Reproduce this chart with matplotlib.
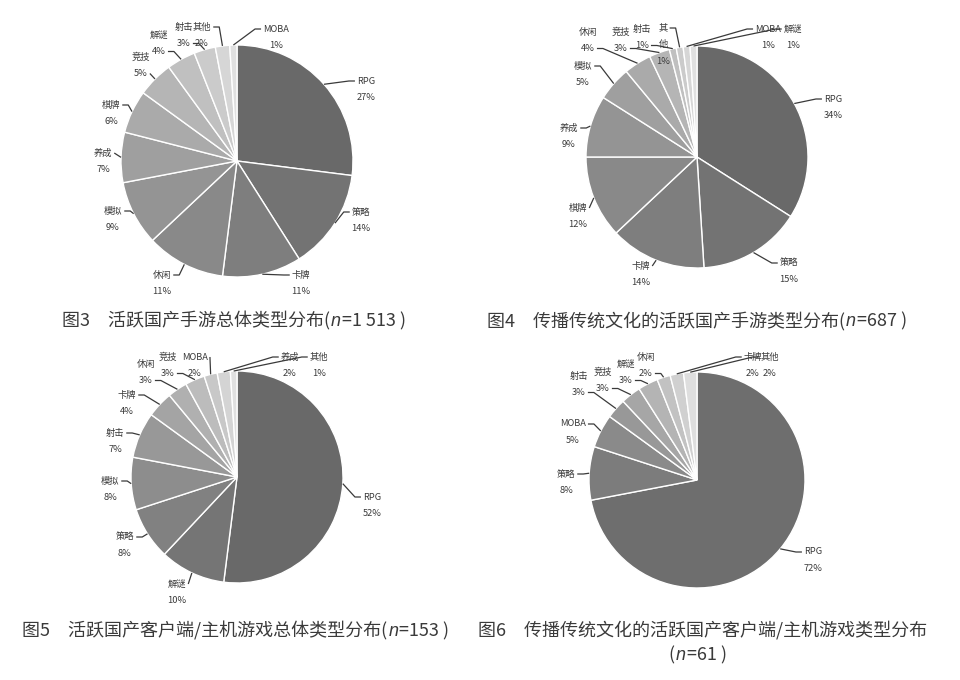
import numpy as np
import matplotlib
matplotlib.use('Agg')
import matplotlib.pyplot as plt

plt.rcParams['font.family'] = ['Noto Sans CJK SC', 'DejaVu Sans']

# 图3 活跃国产手游总体类型分布 (n=1 513)
names_3 = ['RPG', '策略', '卡牌', '休闲', '模拟', '养成', '棋牌', '竞技', '解谜', '射击', '其他', 'MOBA']
share_3 = [27, 14, 11, 11, 9, 7, 6, 5, 4, 3, 2, 1]

# 图4 传播传统文化的活跃国产手游类型分布 (n=687)
names_4 = ['RPG', '策略', '卡牌', '棋牌', '养成', '模拟', '休闲', '竞技', '射击', '其他', 'MOBA', '解谜']
share_4 = [34, 15, 14, 12, 9, 5, 4, 3, 1, 1, 1, 1]

# 图5 活跃国产客户端/主机游戏总体类型分布 (n=153)
names_5 = ['RPG', '解谜', '策略', '模拟', '射击', '卡牌', '休闲', '竞技', 'MOBA', '养成', '其他']
share_5 = [52, 10, 8, 8, 7, 4, 3, 3, 2, 2, 1]

# 图6 传播传统文化的活跃国产客户端/主机游戏类型分布 (n=61)
names_6 = ['RPG', '策略', 'MOBA', '射击', '竞技', '解谜', '休闲', '卡牌', '其他']
share_6 = [72, 8, 5, 3, 3, 3, 2, 2, 2]

W, H = 960, 680
STEP = 16.5
TXT = '#3a3a3a'
LINE = '#3a3a3a'

fig = plt.figure(figsize=(W / 100, H / 100), dpi=100)
fig.patch.set_facecolor('white')

# overlay in pixel coords (y down) for labels, leaders and captions
over = fig.add_axes([0, 0, 1, 1])
over.set_xlim(0, W)
over.set_ylim(H, 0)
over.set_axis_off()
over.set_zorder(10)
over.patch.set_alpha(0)

renderer = fig.canvas.get_renderer()


def draw_pie(names, shares, cx, cy, r, spots, g0=0.41, g1=0.88, wrap={}):
    ax = fig.add_axes([(cx - r) / W, 1 - (cy + r) / H, 2 * r / W, 2 * r / H])
    grays = np.linspace(g0, g1, len(shares))
    wedges, _ = ax.pie(shares, colors=[str(g) for g in grays], startangle=90,
                       counterclock=False,
                       wedgeprops=dict(edgecolor='white', linewidth=1.0))
    ax.set_xlim(-1, 1)
    ax.set_ylim(-1, 1)
    ax.set_axis_off()

    to_over = over.transData.inverted()
    for w, name, s, (lx, ly) in zip(wedges, names, shares, spots):
        mid = np.deg2rad((w.theta1 + w.theta2) / 2)
        ex, ey = to_over.transform(ax.transData.transform((np.cos(mid), np.sin(mid))))
        lines = wrap.get(name, name).split('\n') + [f'{s}%']
        ys = [ly + i * STEP for i in range(len(lines))]
        ts = [over.text(lx, y, t, ha='center', va='center', fontsize=6.7, color=TXT)
              for t, y in zip(lines, ys)]
        k = len(ts) - 1 if ey > ys[-1] + 3 else 0
        bb = ts[k].get_window_extent(renderer)
        if lx > ex:
            px, tail = bb.x0 - 2, -6
        else:
            px, tail = bb.x1 + 2, 6
        if abs(px - ex) < 8:
            tail = 0
        over.plot([ex, px + tail, px], [ey, ys[k], ys[k]], color=LINE, lw=0.9,
                  solid_capstyle='butt')


def draw_caption(pieces, x, y, center=False):
    items = []
    for text, italic in pieces:
        if italic:
            t = over.text(x, y, text, ha='left', va='center', fontsize=13, color=TXT,
                          family='Liberation Sans', style='italic')
        else:
            t = over.text(x, y, text, ha='left', va='center', fontsize=13, color=TXT)
        bb = t.get_window_extent(renderer)
        x += bb.width + 1
        items.append((t, bb.width + 1))
    if center:
        shift = sum(wd for _, wd in items) / 2
        for t, _ in items:
            t.set_x(t.get_position()[0] - shift)


draw_pie(names_3, share_3, 237, 161, 116,
         [(366, 81), (361, 212), (301, 275), (162, 275), (113, 211), (103, 153),
          (111, 105), (141, 57), (159, 35), (184, 27), (202, 27), (276, 29)])
draw_pie(names_4, share_4, 697, 157, 111,
         [(833, 99), (789, 263), (641, 266), (578, 208), (569, 128), (583, 66),
          (588, 32), (621, 32), (642, 29), (663, 28), (768, 29), (793, 29)],
         wrap={'其他': '其\n他'})
draw_pie(names_5, share_5, 237, 477, 106,
         [(372, 497), (177, 584), (125, 537), (110, 481), (115, 433), (127, 395),
          (146, 364), (168, 357), (195, 357), (290, 357), (319, 357)])
draw_pie(names_6, share_6, 697, 480, 108,
         [(813, 552), (566, 474), (573, 424), (579, 376), (603, 372), (626, 364),
          (646, 357), (753, 357), (770, 357)], g0=0.43, g1=0.87)

draw_caption([('图3\u3000活跃国产手游总体类型分布(', False), ('n', True), ('=1 513 )', False)], 62, 321)
draw_caption([('图4\u3000传播传统文化的活跃国产手游类型分布(', False), ('n', True), ('=687 )', False)], 487, 321)
draw_caption([('图5\u3000活跃国产客户端/主机游戏总体类型分布(', False), ('n', True), ('=153 )', False)], 22, 631)
draw_caption([('图6\u3000传播传统文化的活跃国产客户端/主机游戏类型分布', False)], 478, 631)
draw_caption([('(', False), ('n', True), ('=61 )', False)], 698, 655, center=True)

fig.savefig('out.png', dpi=100, facecolor='white')
